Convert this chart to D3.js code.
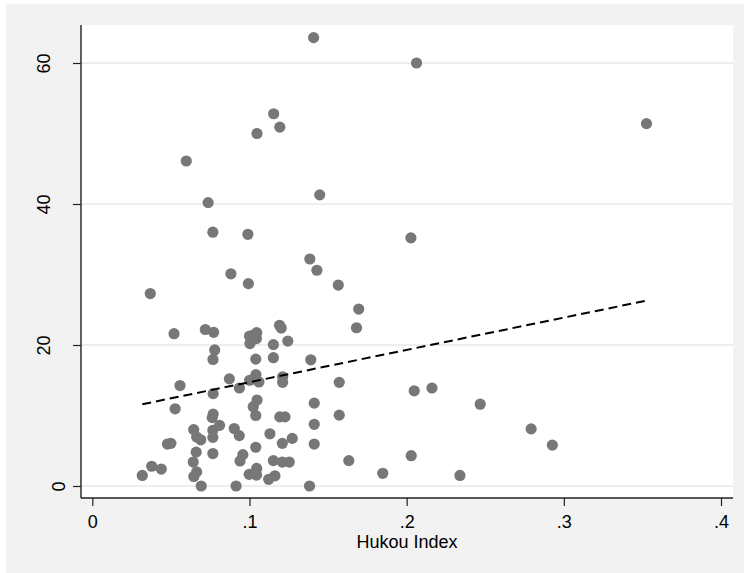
<!DOCTYPE html>
<html>
<head>
<meta charset="utf-8">
<script src="https://cdn.jsdelivr.net/npm/d3@7"></script>
<style>
  html, body { margin: 0; padding: 0; background: #ffffff; }
  svg { display: block; }
  text { font-family: "Liberation Sans", Arial, Helvetica, sans-serif; fill: #000; }
</style>
</head>
<body>
<svg id="chart" width="744" height="573"></svg>
<script>
// ---- data ----
const hukouIndex = [
  0.1408, 0.2063, 0.1154, 0.3526, 0.1193, 0.1048, 0.0598, 0.1447, 0.0737, 0.0767,
  0.0990, 0.2027, 0.1384, 0.1429, 0.0882, 0.0993, 0.1565, 0.0369, 0.1695, 0.1681,
  0.1191, 0.1202, 0.0719, 0.0772, 0.0520, 0.1000, 0.1046, 0.1044, 0.1003, 0.1152,
  0.1244, 0.0779, 0.0768, 0.1040, 0.1152, 0.1390, 0.0872, 0.1041, 0.1001, 0.1060,
  0.1211, 0.1211, 0.0558, 0.1571, 0.0936, 0.0769, 0.2048, 0.2161, 0.1412, 0.2468,
  0.1048, 0.1024, 0.0527, 0.0769, 0.0763, 0.1040, 0.1193, 0.1226, 0.1571, 0.2792,
  0.0645, 0.0767, 0.0810, 0.0903, 0.1412, 0.0664, 0.0690, 0.0767, 0.0935, 0.1130,
  0.1272, 0.0478, 0.0500, 0.1209, 0.1412, 0.2927, 0.1040, 0.0661, 0.0767, 0.0958,
  0.2029, 0.0940, 0.0642, 0.1152, 0.1209, 0.1253, 0.1632, 0.0378, 0.0439, 0.1046,
  0.0664, 0.0318, 0.0646, 0.0998, 0.1045, 0.1162, 0.1122, 0.1848, 0.2339, 0.0693,
  0.0915, 0.1382, 0.1024
];
const outcome = [
  63.6, 60.0, 52.8, 51.4, 50.9, 50.0, 46.1, 41.3, 40.2, 36.0,
  35.7, 35.2, 32.2, 30.6, 30.1, 28.7, 28.5, 27.3, 25.1, 22.45,
  22.8, 22.4, 22.2, 21.8, 21.6, 21.25, 21.75, 20.9, 20.2, 20.05,
  20.55, 19.3, 17.95, 18.0, 18.2, 17.9, 15.2, 15.8, 15.0, 14.75,
  15.5, 14.7, 14.25, 14.7, 13.9, 13.1, 13.5, 13.9, 11.75, 11.6,
  12.2, 11.25, 10.95, 10.2, 9.7, 10.0, 9.8, 9.8, 10.05, 8.1,
  8.0, 7.9, 8.6, 8.15, 8.75, 6.95, 6.55, 6.9, 7.15, 7.4,
  6.75, 5.95, 6.05, 6.05, 5.95, 5.8, 5.5, 4.8, 4.6, 4.45,
  4.3, 3.55, 3.4, 3.6, 3.4, 3.4, 3.6, 2.8, 2.4, 2.5,
  2.0, 1.5, 1.35, 1.65, 1.55, 1.45, 0.95, 1.8, 1.5, 0.0,
  0.0, 0.0, 21.4
];
const fitX = [0.0318, 0.3527];
const fitY = [11.6, 26.3];
const xTicks = [0, 0.1, 0.2, 0.3, 0.4];
const xTickLabels = ["0", ".1", ".2", ".3", ".4"];
const yTicks = [0, 20, 40, 60];
const yTickLabels = ["0", "20", "40", "60"];
const xTitle = "Hukou Index";

// ---- layout ----
const W = 744, H = 573;
const plot = { left: 81, right: 733, top: 25, bottom: 498 };

const svg = d3.select("#chart");

// outer gray background
svg.append("rect").attr("x", 6).attr("y", 4).attr("width", W - 6).attr("height", H - 4)
  .attr("fill", "#f2f2f2");

// plot region
svg.append("rect").attr("x", plot.left).attr("y", plot.top)
  .attr("width", plot.right - plot.left).attr("height", plot.bottom - plot.top)
  .attr("fill", "#ffffff");

const x = d3.scaleLinear().domain([0, 0.4]).range([92.3, 721]);
const y = d3.scaleLinear().domain([0, 60]).range([486, 63]);

// gridlines
svg.append("g").selectAll("line").data(yTicks).join("line")
  .attr("x1", plot.left + 1).attr("x2", plot.right)
  .attr("y1", d => y(d)).attr("y2", d => y(d))
  .attr("stroke", "#e9e9e9").attr("stroke-width", 1.6);

// points
const pts = hukouIndex.map((v, i) => ({ x: v, y: outcome[i] }));
svg.append("g").selectAll("circle").data(pts).join("circle")
  .attr("cx", d => x(d.x)).attr("cy", d => y(d.y)).attr("r", 5.6)
  .attr("fill", "#777777");

// fitted dashed line
const line = d3.line().x(d => x(d[0])).y(d => y(d[1]));
svg.append("path").datum(fitX.map((v, i) => [v, fitY[i]]))
  .attr("d", line).attr("fill", "none").attr("stroke", "#000")
  .attr("stroke-width", 2).attr("stroke-dasharray", "9,5");

// x axis
const xAxis = d3.axisBottom(x).tickValues(xTicks)
  .tickFormat((d, i) => xTickLabels[i]).tickSize(8).tickPadding(10);
const gx = svg.append("g").attr("transform", `translate(0,${plot.bottom})`).call(xAxis);
gx.select(".domain").remove();
gx.selectAll(".tick line").attr("stroke", "#222").attr("stroke-width", 1.2);
gx.selectAll(".tick text").attr("font-size", 18).attr("fill", "#000")
  .attr("font-family", '"Liberation Sans", Arial, sans-serif')
  .attr("dy", null).attr("y", 30);
gx.append("line").attr("x1", plot.left).attr("x2", plot.right)
  .attr("y1", 0).attr("y2", 0).attr("stroke", "#222").attr("stroke-width", 1.4);

// y axis
const yAxis = d3.axisLeft(y).tickValues(yTicks)
  .tickFormat((d, i) => yTickLabels[i]).tickSize(8);
const gy = svg.append("g").attr("transform", `translate(${plot.left},0)`).call(yAxis);
gy.select(".domain").remove();
gy.selectAll(".tick line").attr("stroke", "#222").attr("stroke-width", 1.2);
gy.selectAll(".tick text").each(function (d, i) {
  const lab = yTickLabels[i];
  const bx = -16 - (lab.length - 1) * 15; // baseline offset from axis
  d3.select(this).attr("x", null).attr("dy", null)
    .attr("text-anchor", "middle")
    .attr("font-size", 18).attr("fill", "#000")
    .attr("font-family", '"Liberation Sans", Arial, sans-serif')
    .attr("transform", `translate(${bx},0) rotate(-90)`);
});
gy.append("line").attr("x1", 0).attr("x2", 0)
  .attr("y1", plot.top).attr("y2", plot.bottom).attr("stroke", "#222").attr("stroke-width", 1.4);

// x title
svg.append("text").attr("x", (plot.left + plot.right) / 2).attr("y", 548)
  .attr("text-anchor", "middle").attr("font-size", 18).text(xTitle);
</script>
</body>
</html>
